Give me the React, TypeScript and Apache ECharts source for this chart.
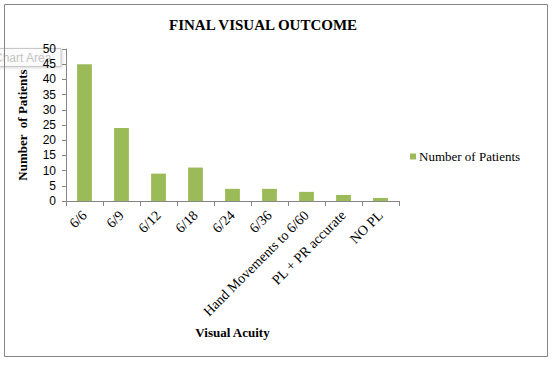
import React, { useEffect, useRef } from "react";
import * as echarts from "echarts";

const categories = ["6/6", "6/9", "6/12", "6/18", "6/24", "6/36", "Hand Movements to 6/60", "PL + PR accurate", "NO PL"];
const patients = [45, 24, 9, 11, 4, 4, 3, 2, 1];
const seriesName = "Number of Patients";
const titleText = "FINAL VISUAL OUTCOME";
const xAxisName = "Visual Acuity";
const yAxisName = "Number  of Patients";

const SERIF = "'Liberation Serif', 'Times New Roman', serif";
const SANS = "'Liberation Sans', Arial, sans-serif";

export default function App() {
  const ref = useRef<HTMLDivElement>(null);
  useEffect(() => {
    if (!ref.current) return;
    const chart = echarts.init(ref.current, null, { renderer: "svg" });
    chart.setOption({
      animation: false,
      backgroundColor: "#ffffff",
      title: {
        text: titleText,
        left: 164,
        top: 12,
        textStyle: { fontFamily: SERIF, fontSize: 15, fontWeight: "bold", color: "#000" },
      },
      legend: {
        data: [seriesName],
        left: 405,
        top: 145,
        icon: "rect",
        itemWidth: 6,
        itemHeight: 6,
        itemGap: 4,
        textStyle: { fontFamily: SERIF, fontSize: 13, color: "#000", padding: [0, 0, 0, -2] },
      },
      grid: { left: 66, top: 49, width: 333, height: 152, containLabel: false },
      xAxis: {
        type: "category",
        data: categories,
        name: xAxisName,
        nameLocation: "middle",
        nameGap: 125,
        nameTextStyle: { fontFamily: SERIF, fontSize: 13, fontWeight: "bold", color: "#000" },
        axisLine: { lineStyle: { color: "#868686" } },
        axisTick: { show: true, alignWithLabel: false, length: 5, lineStyle: { color: "#868686" } },
        axisLabel: { rotate: 45, interval: 0, fontFamily: SERIF, fontSize: 14, color: "#000", margin: 12 },
      },
      yAxis: {
        type: "value",
        min: 0,
        max: 50,
        interval: 5,
        name: yAxisName,
        nameLocation: "middle",
        nameGap: 37,
        nameRotate: 90,
        nameTextStyle: { fontFamily: SERIF, fontSize: 13, fontWeight: "bold", color: "#000" },
        axisLine: { show: true, lineStyle: { color: "#868686" } },
        axisTick: { show: true, length: 4, lineStyle: { color: "#868686" } },
        splitLine: { show: false },
        axisLabel: { fontFamily: SANS, fontSize: 12, color: "#000", margin: 10 },
      },
      series: [
        {
          name: seriesName,
          type: "bar",
          data: patients,
          barWidth: "40%",
          itemStyle: { color: "#9BBB59" },
        },
      ],
      graphic: [
        {
          type: "rect",
          shape: { x: 4.5, y: 4.5, width: 543, height: 352 },
          style: { fill: "none", stroke: "#868686", lineWidth: 1 },
          silent: true,
        },
        {
          type: "rect",
          z: -1,
          shape: { x: -6, y: 48.5, width: 67, height: 18 },
          style: { fill: "#fbfbfb", stroke: "#c8c8c8", lineWidth: 1, shadowColor: "rgba(0,0,0,0.15)", shadowBlur: 3, shadowOffsetX: 1, shadowOffsetY: 1 },
          silent: true,
        },
        {
          type: "text",
          z: -1,
          x: -6,
          y: 52,
          style: { text: "Chart Area", fontFamily: SANS, fontSize: 12, fill: "#c4c4c4" },
          silent: true,
        },
      ],
    });
    return () => chart.dispose();
  }, []);
  return (
    <div style={{ position: "fixed", left: 0, top: 0, width: 553, height: 368, background: "#fff" }}>
      <div ref={ref} style={{ width: 553, height: 368 }} />
    </div>
  );
}
